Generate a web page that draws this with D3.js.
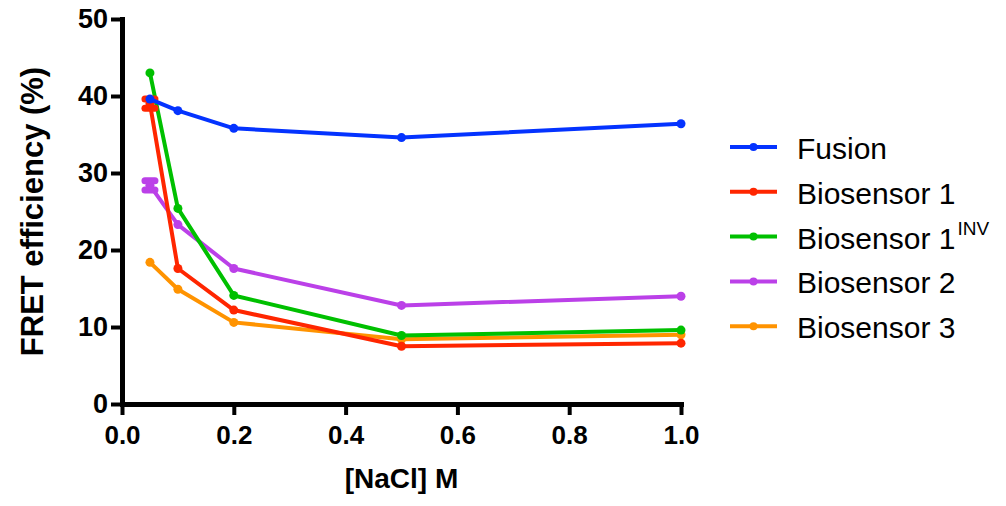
<!DOCTYPE html>
<html>
<head>
<meta charset="utf-8">
<script src="https://cdn.jsdelivr.net/npm/d3@7"></script>
<style>
  body { margin: 0; background: #fff; }
  text { font-family: "Liberation Sans", Arial, sans-serif; }
</style>
</head>
<body>
<svg width="1006" height="506"></svg>
<script>
// data
var salt = [0.05, 0.1, 0.2, 0.5, 1.0];
var seriesNames = ["Fusion", "Biosensor 1", "Biosensor 1", "Biosensor 2", "Biosensor 3"];
var seriesSup = ["", "", "INV", "", ""];
var seriesColors = ["#0433ff", "#ff2600", "#00c000", "#bb40e8", "#ff9300"];
var fusion = [39.6, 38.1, 35.8, 34.6, 36.4];
var bio1 = [39.0, 17.6, 12.2, 7.5, 7.9];
var bio1inv = [43.0, 25.4, 14.1, 8.9, 9.6];
var bio2 = [28.4, 23.3, 17.6, 12.8, 14.0];
var bio3 = [18.4, 14.9, 10.6, 8.4, 9.0];
var bio1err = [0.6, 0, 0, 0, 0];
var bio2err = [0.6, 0, 0, 0, 0];
var noErr = [0, 0, 0, 0, 0];
var xTicks = [0, 0.2, 0.4, 0.6, 0.8, 1.0];
var yTicks = [0, 10, 20, 30, 40, 50];

var allSeries = [fusion, bio1, bio1inv, bio2, bio3];
var allErr = [noErr, bio1err, noErr, bio2err, noErr];

var svg = d3.select("svg");

// scales
var xScale = d3.scaleLinear().domain([0, 1]).range([122, 681]);
var yScale = d3.scaleLinear().domain([0, 50]).range([404, 19]);

// axes
var yAxis = svg.append("g")
    .attr("transform", "translate(" + xScale(0) + ",0)")
    .call(d3.axisLeft(yScale).tickValues(yTicks).tickSize(11).tickSizeOuter(0).tickPadding(3));
var xAxis = svg.append("g")
    .attr("transform", "translate(0," + yScale(0) + ")")
    .call(d3.axisBottom(xScale).tickValues(xTicks).tickFormat(d3.format(".1f"))
        .tickSize(11).tickSizeOuter(0).tickPadding(11));

[yAxis, xAxis].forEach(function(ax) {
    ax.select(".domain").attr("stroke", "#000").attr("stroke-width", 5).attr("stroke-linecap", "square");
    ax.selectAll(".tick line").attr("stroke", "#000").attr("stroke-width", 4);
    ax.selectAll(".tick text").attr("fill", "#000")
        .style("font-weight", "bold").style("font-family", "'Liberation Sans', Arial, sans-serif");
});
yAxis.selectAll(".tick text").style("font-size", "27px");
xAxis.selectAll(".tick text").style("font-size", "26px");

// axis titles
svg.append("text")
    .attr("x", (xScale(0) + xScale(1)) / 2)
    .attr("y", 488)
    .attr("text-anchor", "middle")
    .style("font-size", "28px")
    .style("font-weight", "bold")
    .text("[NaCl] M");
svg.append("text")
    .attr("transform", "translate(43," + (yScale(0) + yScale(50)) / 2 + ") rotate(-90)")
    .attr("text-anchor", "middle")
    .style("font-size", "31px")
    .style("font-weight", "bold")
    .text("FRET efficiency (%)");

// lines, drawn last series first so Fusion sits on top
var line = d3.line()
    .x(function(d, i) { return xScale(salt[i]); })
    .y(function(d) { return yScale(d); });

for (var s = allSeries.length - 1; s >= 0; s--) {
    var g = svg.append("g");
    var vals = allSeries[s];
    var errs = allErr[s];
    g.append("path")
        .datum(vals)
        .attr("d", line)
        .attr("fill", "none")
        .attr("stroke", seriesColors[s])
        .attr("stroke-width", 4)
        .attr("stroke-linejoin", "round");
    // error bars (only visible at the lowest salt)
    for (var i = 0; i < salt.length; i++) {
        if (errs[i] <= 0) continue;
        var cx = xScale(salt[i]);
        [vals[i] + errs[i], vals[i] - errs[i]].forEach(function(v) {
            g.append("line")
                .attr("x1", cx - 5).attr("x2", cx + 5)
                .attr("y1", yScale(v)).attr("y2", yScale(v))
                .attr("stroke", seriesColors[s])
                .attr("stroke-width", 7)
                .attr("stroke-linecap", "round");
        });
        g.append("line")
            .attr("x1", cx).attr("x2", cx)
            .attr("y1", yScale(vals[i] + errs[i])).attr("y2", yScale(vals[i] - errs[i]))
            .attr("stroke", seriesColors[s])
            .attr("stroke-width", 4);
    }
    g.selectAll("circle")
        .data(vals)
        .enter()
        .append("circle")
        .attr("cx", function(d, i) { return xScale(salt[i]); })
        .attr("cy", function(d) { return yScale(d); })
        .attr("r", 4.5)
        .attr("fill", seriesColors[s]);
}

// legend
var legend = svg.append("g");
for (var k = 0; k < seriesNames.length; k++) {
    var ly = 147 + k * 44.8;
    legend.append("line")
        .attr("x1", 730).attr("x2", 777)
        .attr("y1", ly).attr("y2", ly)
        .attr("stroke", seriesColors[k])
        .attr("stroke-width", 4);
    legend.append("circle")
        .attr("cx", 753.5).attr("cy", ly)
        .attr("r", 4)
        .attr("fill", seriesColors[k]);
    var t = legend.append("text")
        .attr("x", 797)
        .attr("y", ly + 12)
        .style("font-size", "30px")
        .attr("fill", "#000")
        .text(seriesNames[k]);
    if (seriesSup[k]) {
        t.append("tspan")
            .attr("dx", 2)
            .attr("dy", -14)
            .style("font-size", "19px")
            .text(seriesSup[k]);
    }
}
</script>
</body>
</html>
